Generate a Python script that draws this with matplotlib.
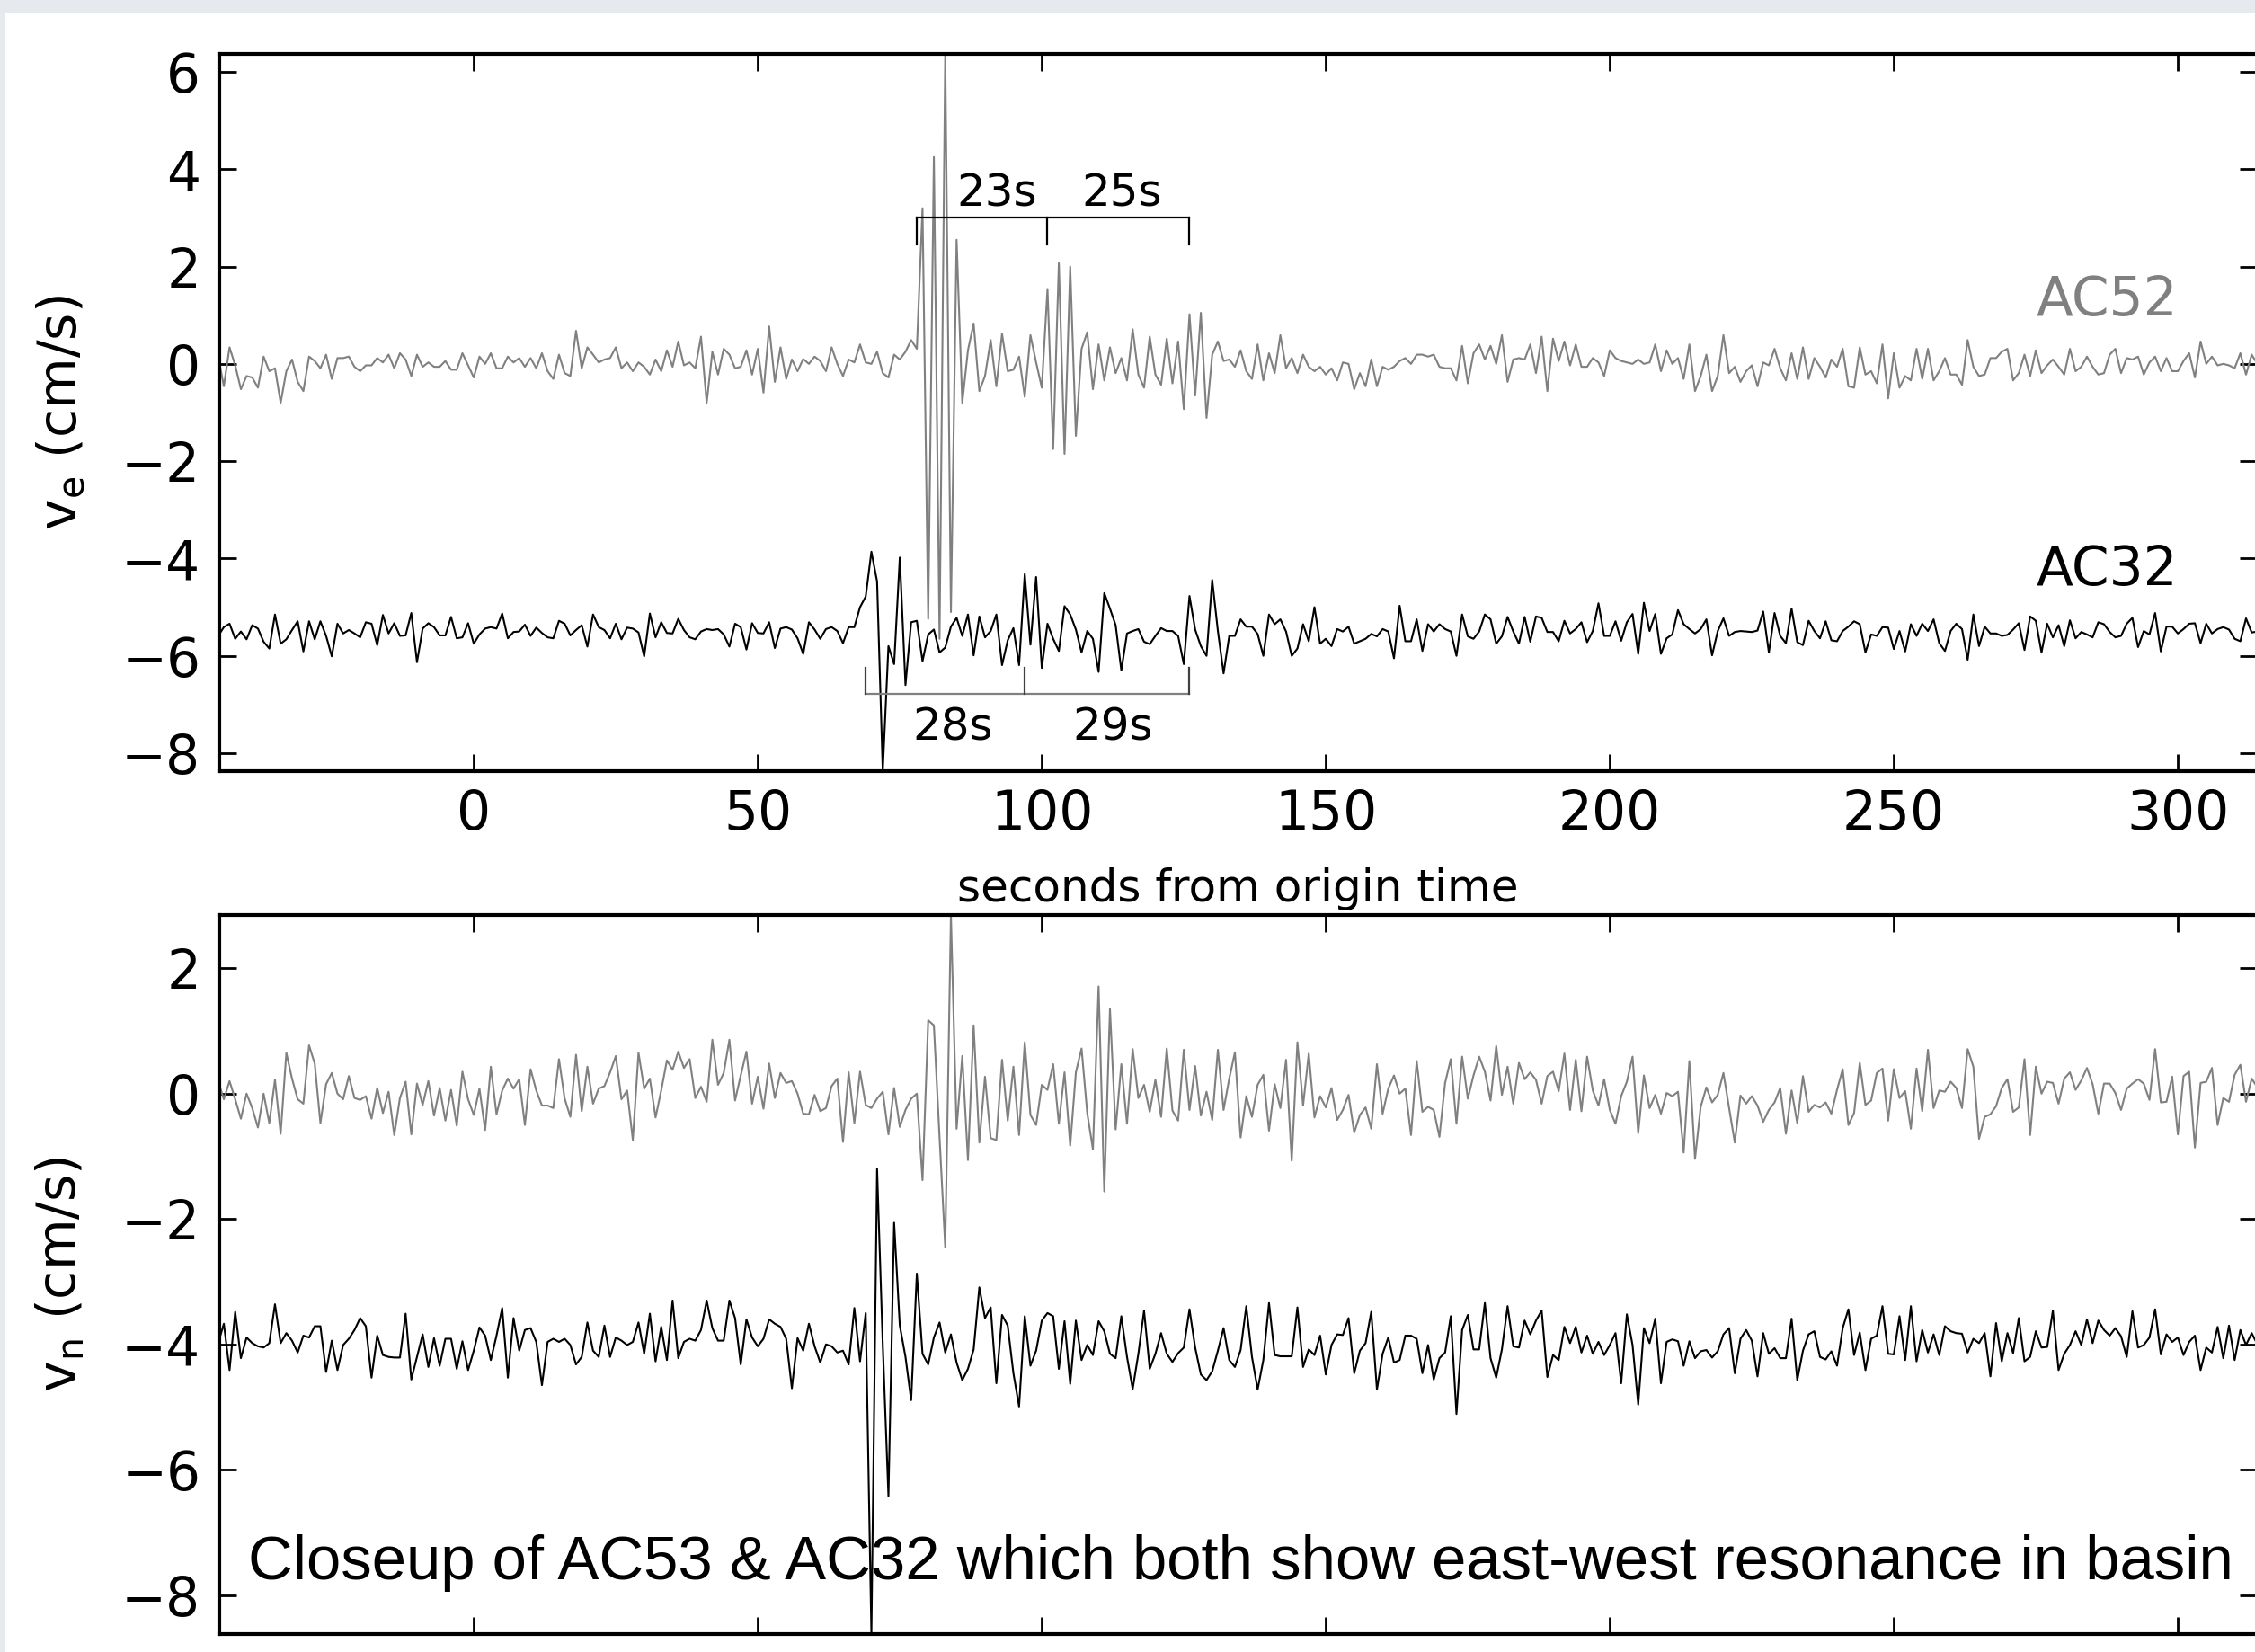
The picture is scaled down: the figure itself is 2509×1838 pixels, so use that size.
import numpy as np
import matplotlib
matplotlib.use("Agg")
import matplotlib.pyplot as plt
from matplotlib.patches import Rectangle

# first sample time (s from origin time), one sample per second
t0 = -45

# east component (top panel), AC52 gray, AC32 black (shifted down)
ve_ac52 = [
    0.15, -0.46, 0.34, -0.03, -0.52, -0.25, -0.28, -0.49, 0.15, -0.15, -0.09, -0.80, -0.15, 0.09, -0.37, -0.56, 0.15, 0.06, -0.09, 0.19,
    -0.31, 0.12, 0.12, 0.15, -0.06, -0.15, -0.03, -0.03, 0.12, 0.03, 0.19, -0.09, 0.22, 0.09, -0.25, 0.19, -0.06, 0.03, -0.06, -0.06,
    0.06, -0.12, -0.12, 0.22, -0.03, -0.28, 0.15, 0.00, 0.22, -0.09, -0.09, 0.15, 0.03, 0.12, -0.06, 0.12, -0.09, 0.22, -0.15, -0.31,
    0.19, -0.19, -0.25, 0.68, -0.09, 0.34, 0.19, 0.03, 0.09, 0.12, 0.34, -0.09, 0.03, -0.15, 0.03, -0.06, -0.22, 0.09, -0.15, 0.28,
    -0.06, 0.46, -0.03, 0.03, -0.09, 0.56, -0.80, 0.25, -0.22, 0.31, 0.19, -0.09, -0.06, 0.28, -0.22, 0.31, -0.59, 0.77, -0.37, 0.34,
    -0.31, 0.09, -0.15, 0.10, 0.00, 0.15, 0.06, -0.15, 0.34, 0.00, -0.25, 0.09, 0.03, 0.40, 0.03, 0.00, 0.25, -0.19, -0.28, 0.19,
    0.09, 0.25, 0.49, 0.31, 3.20, -5.24, 4.25, -5.65, 6.37, -5.10, 2.55, -0.80, 0.28, 0.83, -0.56, -0.25, 0.49, -0.46, 0.62, -0.15,
    -0.12, 0.15, -0.68, 0.59, 0.03, -0.49, 1.54, -1.75, 2.07, -1.85, 2.00, -1.48, 0.31, 0.65, -0.52, 0.40, -0.34, 0.34, -0.19, 0.12,
    -0.34, 0.71, -0.22, -0.49, 0.56, -0.22, -0.43, 0.52, -0.40, 0.46, -0.93, 1.02, -0.65, 1.05, -1.11, 0.19, 0.46, 0.06, 0.09, -0.06,
    0.28, -0.15, -0.31, 0.40, -0.34, 0.22, -0.19, 0.59, -0.09, 0.12, -0.19, 0.19, -0.06, -0.15, -0.06, -0.22, -0.09, -0.34, 0.03, 0.00,
    -0.52, -0.19, -0.46, 0.09, -0.46, -0.06, -0.12, -0.06, 0.06, 0.12, 0.00, 0.19, 0.19, 0.15, 0.19, -0.06, -0.09, -0.09, -0.34, 0.37,
    -0.40, 0.22, 0.40, 0.09, 0.37, 0.00, 0.59, -0.37, 0.09, 0.12, 0.09, 0.40, -0.19, 0.56, -0.56, 0.52, 0.06, 0.46, -0.03, 0.40,
    -0.06, -0.06, 0.12, 0.03, -0.25, 0.28, 0.12, 0.06, 0.03, 0.00, 0.09, 0.00, 0.03, 0.40, -0.15, 0.28, 0.00, 0.12, -0.31, 0.40,
    -0.56, -0.25, 0.19, -0.56, -0.25, 0.59, -0.19, -0.06, -0.37, -0.15, -0.03, -0.46, 0.03, -0.03, 0.31, -0.09, -0.34, 0.22, -0.31, 0.34,
    -0.31, 0.12, -0.06, -0.28, 0.09, -0.06, 0.31, -0.46, -0.49, 0.34, -0.22, -0.15, -0.40, 0.40, -0.71, 0.22, -0.49, -0.25, -0.34, 0.31,
    -0.31, 0.31, -0.34, -0.15, 0.12, -0.22, -0.22, -0.43, 0.49, -0.06, -0.25, -0.22, 0.12, 0.12, 0.25, 0.31, -0.34, -0.19, 0.19, -0.25,
    0.28, -0.19, -0.03, 0.09, -0.06, -0.22, 0.31, -0.15, -0.06, 0.15, -0.06, -0.22, -0.19, 0.19, 0.31, -0.19, 0.12, 0.09, 0.15, -0.22,
    0.03, 0.15, -0.15, 0.12, -0.15, -0.15, 0.06, 0.22, -0.28, 0.46, 0.00, 0.15, -0.03, 0.00, -0.03, -0.09, 0.22, -0.22, 0.19, 0.00,
]
ve_ac32 = [
    -5.59, -5.41, -5.34, -5.65, -5.50, -5.66, -5.37, -5.44, -5.71, -5.85, -5.15, -5.75, -5.66, -5.47, -5.29, -5.91, -5.29, -5.66, -5.29, -5.59,
    -6.01, -5.34, -5.54, -5.47, -5.54, -5.62, -5.31, -5.34, -5.78, -5.16, -5.54, -5.33, -5.59, -5.58, -5.12, -6.13, -5.44, -5.33, -5.41, -5.58,
    -5.58, -5.20, -5.64, -5.62, -5.33, -5.75, -5.56, -5.44, -5.41, -5.44, -5.13, -5.64, -5.51, -5.50, -5.36, -5.59, -5.42, -5.53, -5.62, -5.64,
    -5.28, -5.34, -5.58, -5.47, -5.37, -5.81, -5.15, -5.41, -5.47, -5.64, -5.34, -5.66, -5.42, -5.44, -5.52, -6.01, -5.13, -5.62, -5.31, -5.53,
    -5.54, -5.24, -5.47, -5.62, -5.66, -5.50, -5.45, -5.47, -5.45, -5.56, -5.81, -5.34, -5.41, -5.87, -5.33, -5.53, -5.54, -5.31, -5.84, -5.44,
    -5.41, -5.46, -5.64, -5.96, -5.31, -5.46, -5.65, -5.45, -5.41, -5.49, -5.74, -5.41, -5.41, -5.00, -4.78, -3.86, -4.47, -8.37, -5.80, -6.17,
    -3.98, -6.60, -5.31, -5.28, -6.11, -5.56, -5.46, -5.93, -5.83, -5.40, -5.22, -5.59, -5.15, -5.99, -5.19, -5.62, -5.49, -5.15, -6.19, -5.68,
    -5.43, -6.19, -4.32, -5.77, -4.38, -6.25, -5.34, -5.65, -5.90, -4.98, -5.15, -5.46, -5.93, -5.49, -5.65, -6.33, -4.71, -5.03, -5.37, -6.30,
    -5.54, -5.49, -5.45, -5.71, -5.76, -5.59, -5.43, -5.49, -5.49, -5.59, -6.17, -4.77, -5.46, -5.80, -6.00, -4.44, -5.49, -6.36, -5.59, -5.59,
    -5.25, -5.40, -5.40, -5.55, -6.00, -5.15, -5.35, -5.25, -5.50, -6.00, -5.85, -5.35, -5.70, -5.00, -5.75, -5.65, -5.80, -5.45, -5.50, -5.40,
    -5.75, -5.70, -5.65, -5.55, -5.60, -5.45, -5.50, -6.05, -4.97, -5.70, -5.70, -5.25, -5.90, -5.35, -5.50, -5.35, -5.45, -5.50, -6.00, -5.15,
    -5.60, -5.65, -5.50, -5.15, -5.25, -5.75, -5.60, -5.20, -5.50, -5.75, -5.20, -5.71, -5.19, -5.22, -5.51, -5.51, -5.70, -5.28, -5.54, -5.45,
    -5.31, -5.72, -5.49, -4.92, -5.59, -5.59, -5.29, -5.69, -5.31, -5.14, -5.96, -4.91, -5.49, -5.14, -5.96, -5.64, -5.56, -5.06, -5.35, -5.45,
    -5.54, -5.45, -5.25, -5.99, -5.49, -5.23, -5.59, -5.51, -5.49, -5.50, -5.51, -5.48, -5.09, -5.93, -5.12, -5.59, -5.74, -5.03, -5.72, -5.78,
    -5.28, -5.49, -5.64, -5.29, -5.68, -5.70, -5.49, -5.40, -5.29, -5.35, -5.93, -5.56, -5.59, -5.41, -5.42, -5.86, -5.49, -5.91, -5.35, -5.59,
    -5.34, -5.49, -5.25, -5.74, -5.90, -5.49, -5.34, -5.45, -6.08, -5.15, -5.80, -5.40, -5.54, -5.54, -5.59, -5.57, -5.46, -5.33, -5.88, -5.19,
    -5.28, -5.93, -5.34, -5.62, -5.37, -5.80, -5.27, -5.64, -5.51, -5.56, -5.62, -5.31, -5.35, -5.51, -5.62, -5.59, -5.34, -5.22, -5.82, -5.49,
    -5.56, -5.12, -5.91, -5.40, -5.40, -5.54, -5.45, -5.34, -5.33, -5.74, -5.34, -5.54, -5.45, -5.41, -5.46, -5.65, -5.70, -5.23, -5.52, -5.50,
]

# north component (bottom panel), AC53 gray, AC32 black (shifted down)
vn_ac53 = [
    0.20, -0.09, 0.20, -0.09, -0.40, 0.00, -0.23, -0.54, 0.00, -0.47, 0.22, -0.64, 0.65, 0.24, -0.09, -0.16, 0.77, 0.48, -0.47, 0.15,
    0.33, 0.00, -0.09, 0.28, -0.07, -0.10, -0.04, -0.40, 0.09, -0.31, 0.03, -0.66, -0.07, 0.19, -0.65, 0.16, -0.18, 0.20, -0.35, 0.09,
    -0.43, 0.06, -0.51, 0.35, -0.09, -0.34, 0.08, -0.58, 0.43, -0.33, 0.05, 0.24, 0.08, 0.23, -0.50, 0.39, 0.05, -0.19, -0.19, -0.23,
    0.55, -0.08, -0.37, 0.62, -0.28, 0.43, -0.16, 0.08, 0.12, 0.34, 0.60, -0.09, 0.05, -0.74, 0.65, 0.08, 0.24, -0.38, 0.05, 0.53,
    0.38, 0.67, 0.41, 0.55, -0.07, 0.11, -0.13, 0.86, 0.14, 0.33, 0.86, -0.11, 0.29, 0.67, -0.16, 0.27, -0.24, 0.48, -0.07, 0.33,
    0.17, 0.20, 0.00, -0.32, -0.33, -0.02, -0.28, -0.23, 0.12, 0.24, -0.77, 0.34, -0.47, 0.35, -0.18, -0.23, -0.08, 0.03, -0.65, 0.09,
    -0.53, -0.26, -0.08, 0.00, -1.38, 1.17, 1.09, -0.70, -2.45, 2.85, -0.56, 0.60, -1.06, 1.09, -0.78, 0.27, -0.71, -0.74, 0.54, -0.43,
    0.43, -0.66, 0.82, -0.34, -0.50, 0.14, 0.06, 0.47, -0.48, 0.34, -0.83, 0.34, 0.72, -0.31, -0.89, 1.71, -1.56, 1.35, -0.57, 0.47,
    -0.48, 0.71, -0.07, 0.14, -0.29, 0.22, -0.37, 0.72, -0.27, -0.43, 0.70, -0.26, 0.44, -0.35, 0.03, -0.42, 0.70, -0.26, 0.24, 0.66,
    -0.70, -0.04, -0.37, 0.14, 0.30, -0.59, 0.15, -0.23, 0.54, -1.07, 0.82, -0.19, 0.64, -0.38, -0.04, -0.22, 0.09, -0.42, -0.26, -0.02,
    -0.62, -0.34, -0.22, -0.56, 0.47, -0.32, 0.08, 0.29, 0.00, 0.08, -0.66, 0.52, -0.29, -0.21, -0.26, -0.69, 0.17, 0.55, -0.48, 0.59,
    -0.08, 0.29, 0.59, 0.35, -0.11, 0.76, -0.02, 0.43, -0.16, 0.49, 0.23, 0.34, 0.22, -0.16, 0.28, 0.35, 0.04, 0.64, -0.26, 0.54,
    -0.28, 0.59, 0.05, -0.19, 0.23, -0.26, -0.48, -0.04, 0.19, 0.59, -0.63, 0.29, -0.23, -0.02, -0.32, 0.01, -0.04, 0.03, -0.94, 0.52,
    -1.04, -0.21, 0.10, -0.14, -0.02, 0.33, -0.23, -0.78, -0.03, -0.16, -0.04, -0.19, -0.45, -0.26, -0.14, 0.09, -0.64, 0.05, -0.47, 0.28,
    -0.29, -0.18, -0.22, -0.14, -0.32, 0.06, 0.39, -0.50, -0.31, 0.49, -0.18, -0.11, 0.33, 0.40, -0.43, 0.39, -0.07, 0.04, -0.56, 0.40,
    -0.28, 0.70, -0.23, 0.05, 0.03, 0.19, 0.09, -0.23, 0.71, 0.43, -0.72, -0.37, -0.33, -0.20, 0.09, 0.23, -0.29, -0.22, 0.55, -0.66,
    0.43, 0.00, 0.19, 0.17, -0.16, 0.24, 0.34, 0.06, 0.21, 0.41, 0.15, -0.32, 0.16, 0.16, 0.01, -0.26, 0.08, 0.16, 0.23, 0.16,
    -0.10, 0.71, -0.14, -0.13, 0.27, -0.65, 0.28, 0.35, -0.86, 0.17, 0.19, 0.41, -0.50, -0.07, -0.13, 0.30, 0.46, -0.13, 0.24, 0.10,
]
vn_ac32 = [
    -3.98, -3.67, -4.41, -3.48, -4.22, -3.89, -3.98, -4.03, -4.05, -3.98, -3.36, -3.98, -3.82, -3.94, -4.13, -3.86, -3.89, -3.71, -3.71, -4.44,
    -3.94, -4.41, -4.01, -3.91, -3.77, -3.58, -3.71, -4.53, -3.86, -4.17, -4.20, -4.21, -4.21, -3.51, -4.56, -4.20, -3.84, -4.36, -3.90, -4.34,
    -3.91, -3.91, -4.39, -3.95, -4.41, -4.10, -3.73, -3.86, -4.25, -3.86, -3.42, -4.53, -3.58, -4.10, -3.77, -3.74, -3.96, -4.65, -3.96, -3.91,
    -3.96, -3.91, -4.01, -4.32, -4.20, -3.65, -4.10, -4.20, -3.70, -4.20, -3.89, -3.94, -4.01, -3.96, -3.65, -4.15, -3.51, -4.27, -3.72, -4.25,
    -3.30, -4.22, -3.96, -3.91, -3.94, -3.77, -3.30, -3.74, -3.94, -3.94, -3.30, -3.58, -4.32, -3.60, -3.89, -4.03, -3.91, -3.60, -3.67, -3.72,
    -3.91, -4.70, -3.90, -4.10, -3.67, -4.03, -4.29, -4.00, -4.03, -4.13, -4.10, -4.32, -3.42, -4.27, -3.50, -8.62, -1.20, -4.00, -6.42, -2.06,
    -3.70, -4.20, -4.89, -2.87, -4.15, -4.32, -3.89, -3.65, -4.13, -3.84, -4.29, -4.57, -4.39, -4.08, -3.09, -3.58, -3.41, -4.62, -3.53, -3.70,
    -4.46, -4.99, -3.55, -4.34, -4.10, -3.62, -3.50, -3.55, -4.39, -3.63, -4.63, -3.62, -4.25, -4.01, -4.17, -3.63, -3.79, -4.15, -4.22, -3.55,
    -4.20, -4.71, -4.15, -3.46, -4.39, -4.15, -3.82, -4.15, -4.28, -4.14, -4.05, -3.44, -4.05, -4.48, -4.57, -4.43, -4.10, -3.74, -4.25, -4.36,
    -4.09, -3.39, -4.20, -4.72, -4.25, -3.34, -4.17, -4.19, -4.19, -4.19, -3.41, -4.36, -4.08, -4.17, -3.86, -4.48, -4.01, -3.84, -3.85, -3.58,
    -4.46, -4.10, -3.98, -3.48, -4.72, -4.15, -3.89, -4.29, -4.25, -3.86, -3.86, -3.91, -4.46, -4.01, -4.56, -4.22, -4.13, -3.55, -5.11, -3.77,
    -3.53, -4.08, -4.08, -3.34, -4.22, -4.53, -4.08, -3.39, -4.03, -4.05, -3.62, -3.84, -3.62, -3.46, -4.52, -4.17, -4.25, -3.72, -3.98, -3.72,
    -4.13, -3.86, -4.15, -3.96, -4.17, -4.01, -3.82, -4.62, -3.52, -4.01, -4.96, -3.74, -3.98, -3.59, -4.62, -3.96, -3.92, -3.95, -4.34, -3.95,
    -4.22, -4.11, -4.09, -4.21, -4.11, -3.84, -3.74, -4.46, -3.91, -3.77, -3.94, -4.51, -3.82, -4.15, -4.06, -4.22, -4.22, -3.59, -4.57, -4.10,
    -3.84, -3.79, -4.20, -4.24, -4.11, -4.34, -3.74, -3.44, -4.17, -3.81, -4.41, -3.91, -3.86, -3.39, -4.15, -4.16, -3.55, -4.25, -3.39, -4.27,
    -3.77, -4.13, -3.84, -4.17, -3.71, -3.79, -3.82, -3.83, -4.13, -3.91, -3.98, -3.82, -4.51, -3.66, -4.27, -3.82, -4.14, -3.58, -4.27, -4.20,
    -3.79, -4.05, -4.04, -3.46, -4.41, -4.15, -4.01, -3.79, -4.01, -3.60, -3.98, -3.62, -3.77, -3.86, -3.74, -3.87, -4.20, -3.47, -4.05, -4.01,
    -3.89, -3.44, -4.16, -3.84, -3.96, -3.89, -4.17, -3.96, -3.86, -4.41, -4.05, -4.13, -3.72, -4.22, -3.70, -4.25, -3.77, -4.01, -3.82, -4.00,
]

# period brackets drawn on the east component
upper_marks = [78, 101, 126]
upper_labels = ["23s", "25s"]
lower_marks = [69, 97, 126]
lower_labels = ["28s", "29s"]

station_labels = ["AC52", "AC32"]
note = "Closeup of AC53 & AC32 which both show east-west resonance in basin"

W, H = 2509, 1838
fig = plt.figure(figsize=(W / 100, H / 100), dpi=100)


def px_box(x0, y0, x1, y1):
    # pixel box (top-left origin) -> figure fraction [left, bottom, w, h]
    return [x0 / W, 1 - y1 / H, (x1 - x0) / W, (y1 - y0) / H]


# screenshot frame strips
fig.add_artist(Rectangle((0, 1 - 15 / H), 1, 15 / H, transform=fig.transFigure,
                         facecolor="#e6e9ed", edgecolor="none"))
fig.add_artist(Rectangle((0, 0), 6 / W, 1, transform=fig.transFigure,
                         facecolor="#e6e9ed", edgecolor="none"))

ax1 = fig.add_axes(px_box(244, 60, 2511, 858))
ax2 = fig.add_axes(px_box(244, 1018, 2511, 1818))


def times(series):
    return t0 + np.arange(len(series))


ax1.plot(times(ve_ac52), ve_ac52, color="gray", lw=1.5)
ax1.plot(times(ve_ac32), ve_ac32, color="black", lw=1.5)
ax2.plot(times(vn_ac53), vn_ac53, color="gray", lw=1.5)
ax2.plot(times(vn_ac32), vn_ac32, color="black", lw=1.5)

ax1.set_ylim(min(ve_ac32), max(ve_ac52))
ax2.set_ylim(min(vn_ac32), max(vn_ac53))

for ax in (ax1, ax2):
    ax.set_xlim(-44.8, 313.9)
    ax.set_xticks(range(0, 301, 50))
    ax.set_yticks(range(-8, 7, 2) if ax is ax1 else range(-8, 3, 2))
    ax.tick_params(direction="in", length=13.5, width=2, top=True, right=True,
                   labelsize=43)
    ax.tick_params(axis="x", pad=14)
    ax.tick_params(axis="y", pad=15)
    for s in ax.spines.values():
        s.set_linewidth(3)
ax2.tick_params(labelbottom=False)

ax1.set_xlabel("seconds from origin time", fontsize=36)
ax1.xaxis.set_label_coords(0.5, -0.134)
ax1.set_ylabel(r"$\mathregular{v_e}$ (cm/s)", fontsize=42)
ax2.set_ylabel(r"$\mathregular{v_n}$ (cm/s)", fontsize=42)
for ax in (ax1, ax2):
    ax.yaxis.set_label_coords(-0.065, 0.5)

# station names
ax1.text(300, 1.0, station_labels[0], color="gray", fontsize=43,
         ha="right", va="baseline")
ax1.text(300, -4.55, station_labels[1], color="black", fontsize=43,
         ha="right", va="baseline")

# upper bracket (black) above AC52
ax1.plot([upper_marks[0], upper_marks[-1]], [3.0, 3.0], color="black", lw=1.6)
for m in upper_marks:
    ax1.plot([m, m], [3.0, 2.46], color="black", lw=1.6)
for x, lab in zip([85, 107], upper_labels):
    ax1.text(x, 3.24, lab, fontsize=36, ha="left", va="baseline")

# lower bracket (gray) below AC32
ax1.plot([lower_marks[0], lower_marks[-1]], [-6.78, -6.78], color="gray", lw=1.6)
for m in lower_marks:
    ax1.plot([m, m], [-6.78, -6.24], color="0.25", lw=1.6)
for x, lab in zip([77.2, 105.4], lower_labels):
    ax1.text(x, -7.74, lab, fontsize=36, ha="left", va="baseline")

ax2.text(-39.7, -7.74, note, fontsize=49.6, family="Liberation Sans",
         ha="left", va="baseline")

fig.savefig("out.png", dpi=100)
